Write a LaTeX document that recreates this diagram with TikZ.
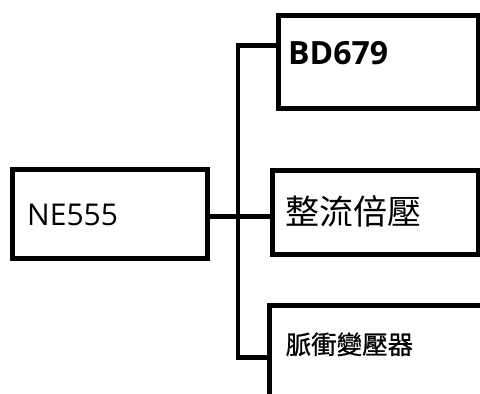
\documentclass[tikz,border=0pt]{standalone}
\usepackage{fontspec}
\setmainfont{Open Sans}
\newfontfamily\cjk{Noto Sans CJK TC}
\newfontfamily\cjkm[FakeBold=0.8]{Noto Sans CJK TC}
\begin{document}
\begin{tikzpicture}[x=1pt,y=-1pt,
  blk/.style={draw=black,line width=5pt,rectangle,inner sep=0pt,fill=none},
  wire/.style={draw=black,line width=4.5pt,line join=miter},
  lbl/.style={inner sep=0pt,anchor=base west}]
\useasboundingbox (0,0) rectangle (480,394);
\clip (0,0) rectangle (480,394);
\node[blk,minimum width=199.5pt,minimum height=93.5pt] (bd) at (378.25,61.75) {};
\node[blk,minimum width=195.5pt,minimum height=89pt] (ne) at (109.75,214) {};
\node[blk,minimum width=205.5pt,minimum height=84pt] (zl) at (375.25,212.5) {};
\node[blk,minimum width=221pt,minimum height=114.5pt] (mc) at (379.5,362.75) {};
\node[lbl] (tbd) at (288,64) {\fontsize{32}{36}\selectfont\bfseries BD679};
\node[lbl] (tne) at (27,225) {\fontsize{30}{34}\selectfont NE555};
\node[lbl] (tzl) at (285,224) {\cjk\fontsize{34}{38}\selectfont 整流倍壓};
\node[lbl] (tmc) at (285.5,354) {\cjkm\fontsize{25.5}{30}\selectfont 脈衝變壓器};
\coordinate (t) at (238,45.5);
\coordinate (b) at (238,357.5);
\coordinate (m) at (238,216.5);
\draw[wire] (t -| bd.west) -- (t) -- (b) -- (b -| mc.west);
\draw[wire] (m -| ne.east) -- (m -| zl.west);
\end{tikzpicture}
\end{document}
